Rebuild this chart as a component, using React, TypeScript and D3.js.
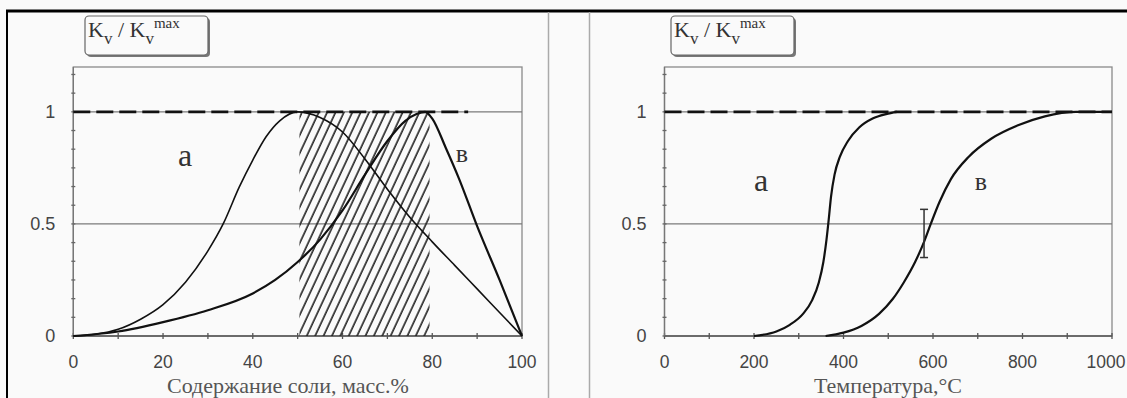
import * as d3 from "d3";
import { useEffect, useRef } from "react";

const W = 1127;
const H = 398;

// left panel: salt content, mass %
const saltTicks = [0, 20, 40, 60, 80, 100];
const saltAx = [0, 5, 10, 15, 20, 25, 30, 33.4, 37, 40, 43, 46, 50, 55, 60, 65, 70, 75, 80, 85, 90, 95, 100];
const saltAy = [0, 0.008, 0.03, 0.075, 0.14, 0.24, 0.38, 0.5, 0.665, 0.785, 0.89, 0.96, 1, 0.975, 0.91, 0.79, 0.655, 0.53, 0.42, 0.315, 0.21, 0.105, 0];
const saltBx = [0, 10, 20, 30, 40, 45, 50, 55, 60, 65, 70, 74, 76.5, 78.4, 80, 83, 86, 90, 95, 100];
const saltBy = [0, 0.02, 0.062, 0.115, 0.19, 0.25, 0.33, 0.43, 0.56, 0.72, 0.87, 0.96, 0.99, 1, 0.97, 0.84, 0.7, 0.49, 0.25, 0];
const saltDashEnd = 88;
const hatchFrom = 50.4;
const hatchTo = 79.4;

// right panel: temperature, C
const tempTicks = [0, 200, 400, 600, 800, 1000];
const tempAx = [200, 250, 280, 310, 330, 345, 355, 362, 367, 372, 380, 392, 410, 435, 465, 495, 520];
const tempAy = [0, 0.02, 0.05, 0.1, 0.16, 0.24, 0.33, 0.43, 0.52, 0.62, 0.72, 0.8, 0.87, 0.93, 0.97, 0.99, 1];
const tempBx = [360, 400, 440, 480, 510, 535, 560, 580, 595, 615, 640, 680, 730, 790, 850, 920, 1000];
const tempBy = [0, 0.015, 0.045, 0.1, 0.165, 0.24, 0.33, 0.42, 0.5, 0.6, 0.7, 0.8, 0.88, 0.94, 0.98, 1, 1];
const errX = 580;
const errLo = 0.35;
const errHi = 0.565;

const yLabels = [0, 0.5, 1];
const yMinor = d3.range(0, 15).map((k) => k / 12);

const SERIF = "'Liberation Serif', 'Times New Roman', serif";
const SANS = "'Liberation Sans', Arial, sans-serif";

const App = () => {
  const ref = useRef(null);

  useEffect(() => {
    document.body.style.margin = "0";
    const svg = d3.select(ref.current);
    svg.selectAll("*").remove();

    svg.append("rect").attr("width", W).attr("height", H).attr("fill", "#fafafa");

    const y = d3.scaleLinear().domain([0, 1.2]).range([336, 67]);

    const hatch = svg.append("defs").append("pattern")
      .attr("id", "hatch")
      .attr("patternUnits", "userSpaceOnUse")
      .attr("width", 7.6)
      .attr("height", 20)
      .attr("patternTransform", "rotate(25)");
    hatch.append("line")
      .attr("x1", 2).attr("x2", 2).attr("y1", 0).attr("y2", 20)
      .attr("stroke", "#222").attr("stroke-width", 1.6);

    const panel = (x, ticks, minorStep, title, titleX, titleAnchor, boxX) => {
      const g = svg.append("g");
      const [x0, x1] = x.range();

      // plot frame
      g.append("rect")
        .attr("x", x0).attr("y", y(1.2))
        .attr("width", x1 - x0).attr("height", y(0) - y(1.2))
        .attr("fill", "none").attr("stroke", "#8a8a8a").attr("stroke-width", 1.3);

      // grid
      [0.5, 1].forEach((v) => {
        g.append("line")
          .attr("x1", x0).attr("x2", x1).attr("y1", y(v)).attr("y2", y(v))
          .attr("stroke", "#7a7a7a").attr("stroke-width", 1.1);
      });

      // x axis
      g.append("line")
        .attr("x1", x0).attr("x2", x1).attr("y1", y(0)).attr("y2", y(0))
        .attr("stroke", "#555").attr("stroke-width", 1.5);
      const xDom = x.domain();
      g.selectAll(".xt")
        .data(d3.range(xDom[0], xDom[1] + 0.001, minorStep))
        .join("line")
        .attr("x1", (d) => x(d)).attr("x2", (d) => x(d))
        .attr("y1", y(0) - 3).attr("y2", y(0) + 3)
        .attr("stroke", "#555").attr("stroke-width", 1.3);
      g.selectAll(".xl")
        .data(ticks)
        .join("text")
        .attr("x", (d) => Math.min(x(d), W - 21)).attr("y", 368)
        .attr("text-anchor", "middle")
        .attr("font-family", SANS).attr("font-size", 17.5)
        .attr("fill", "#444")
        .text((d) => d);

      // y axis
      g.append("line")
        .attr("x1", x0).attr("x2", x0).attr("y1", y(0)).attr("y2", y(1.2))
        .attr("stroke", "#777").attr("stroke-width", 1.3);
      g.selectAll(".yt")
        .data(yMinor)
        .join("line")
        .attr("x1", x0 - 2).attr("x2", x0 + 2)
        .attr("y1", (d) => y(d)).attr("y2", (d) => y(d))
        .attr("stroke", "#666").attr("stroke-width", 1.3);
      g.selectAll(".yl")
        .data(yLabels)
        .join("text")
        .attr("x", x0 - 18).attr("y", (d) => y(d) + 6)
        .attr("text-anchor", "end")
        .attr("font-family", SANS).attr("font-size", 18)
        .attr("fill", "#444")
        .text((d) => d);

      // axis title
      g.append("text")
        .attr("x", titleX).attr("y", 393)
        .attr("text-anchor", titleAnchor)
        .attr("font-family", SERIF).attr("font-size", 22)
        .attr("fill", "#555")
        .text(title);

      // y label box
      g.append("rect")
        .attr("x", boxX + 2).attr("y", 18).attr("width", 123).attr("height", 39).attr("rx", 4)
        .attr("fill", "#777");
      g.append("rect")
        .attr("x", boxX).attr("y", 16).attr("width", 123).attr("height", 39).attr("rx", 4)
        .attr("fill", "#fafafa").attr("stroke", "#666").attr("stroke-width", 1.2);
      const t = g.append("text")
        .attr("x", boxX + 3).attr("y", 37)
        .attr("font-family", SERIF).attr("font-size", 22)
        .attr("fill", "#333");
      t.append("tspan").text("K");
      t.append("tspan").attr("dy", 7).attr("font-size", 17).text("v");
      t.append("tspan").attr("dy", -7).text(" / K");
      t.append("tspan").attr("dy", 7).attr("font-size", 17).text("v");
      t.append("tspan").attr("dy", -16).attr("font-size", 15).text("max");
      return g;
    };

    const line = (x) => d3.line()
      .x((d) => x(d[0]))
      .y((d) => y(d[1]))
      .curve(d3.curveMonotoneX);

    const dashed = (g, x, to) => {
      g.append("line")
        .attr("x1", x(x.domain()[0])).attr("x2", x(to))
        .attr("y1", y(1)).attr("y2", y(1))
        .attr("stroke", "#111").attr("stroke-width", 2.6)
        .attr("stroke-dasharray", "17,6");
    };

    const label = (g, px, py, txt, size) => {
      g.append("text")
        .attr("x", px).attr("y", py)
        .attr("text-anchor", "middle")
        .attr("font-family", SERIF).attr("font-size", size)
        .attr("fill", "#333")
        .text(txt);
    };

    // ---- left: salt content
    const xs = d3.scaleLinear().domain([0, 100]).range([73.3, 522]);
    const gl = panel(xs, saltTicks, 10, "Содержание соли, масс.%", 167, "start", 85);

    gl.append("rect")
      .attr("x", xs(hatchFrom)).attr("y", y(1))
      .attr("width", xs(hatchTo) - xs(hatchFrom)).attr("height", y(0) - y(1))
      .attr("fill", "url(#hatch)");

    dashed(gl, xs, saltDashEnd);
    gl.append("path")
      .datum(d3.zip(saltAx, saltAy))
      .attr("d", line(xs))
      .attr("fill", "none").attr("stroke", "#111").attr("stroke-width", 1.6);
    gl.append("path")
      .datum(d3.zip(saltBx, saltBy))
      .attr("d", line(xs))
      .attr("fill", "none").attr("stroke", "#111").attr("stroke-width", 2.2);
    label(gl, 185, 166, "а", 32);
    label(gl, 462, 162, "в", 26);

    // ---- right: temperature
    const xt = d3.scaleLinear().domain([0, 1000]).range([664.5, 1112]);
    const gr = panel(xt, tempTicks, 100, "Температура,°C", 888, "middle", 671);

    dashed(gr, xt, 1000);
    gr.append("path")
      .datum(d3.zip(tempAx, tempAy))
      .attr("d", line(xt))
      .attr("fill", "none").attr("stroke", "#111").attr("stroke-width", 2.2);
    gr.append("path")
      .datum(d3.zip(tempBx, tempBy))
      .attr("d", line(xt))
      .attr("fill", "none").attr("stroke", "#111").attr("stroke-width", 2.2);

    // error bar
    const eb = gr.append("g").attr("stroke", "#333").attr("stroke-width", 1.5);
    eb.append("line").attr("x1", xt(errX)).attr("x2", xt(errX)).attr("y1", y(errLo)).attr("y2", y(errHi));
    [errLo, errHi].forEach((v) => {
      eb.append("line").attr("x1", xt(errX) - 4).attr("x2", xt(errX) + 4).attr("y1", y(v)).attr("y2", y(v));
    });
    label(gr, 761, 191, "а", 32);
    label(gr, 981, 190, "в", 26);

    // page frame and separators
    svg.append("line").attr("x1", 6).attr("x2", W).attr("y1", 11).attr("y2", 11)
      .attr("stroke", "#000").attr("stroke-width", 3);
    svg.append("line").attr("x1", 7).attr("x2", 7).attr("y1", 10).attr("y2", H)
      .attr("stroke", "#000").attr("stroke-width", 2);
    [548.5, 589.5].forEach((sx) => {
      svg.append("line").attr("x1", sx).attr("x2", sx).attr("y1", 12).attr("y2", H)
        .attr("stroke", "#aaa").attr("stroke-width", 1.5);
    });
  }, []);

  return <svg ref={ref} width={W} height={H} style={{ display: "block" }} />;
};

export default App;
